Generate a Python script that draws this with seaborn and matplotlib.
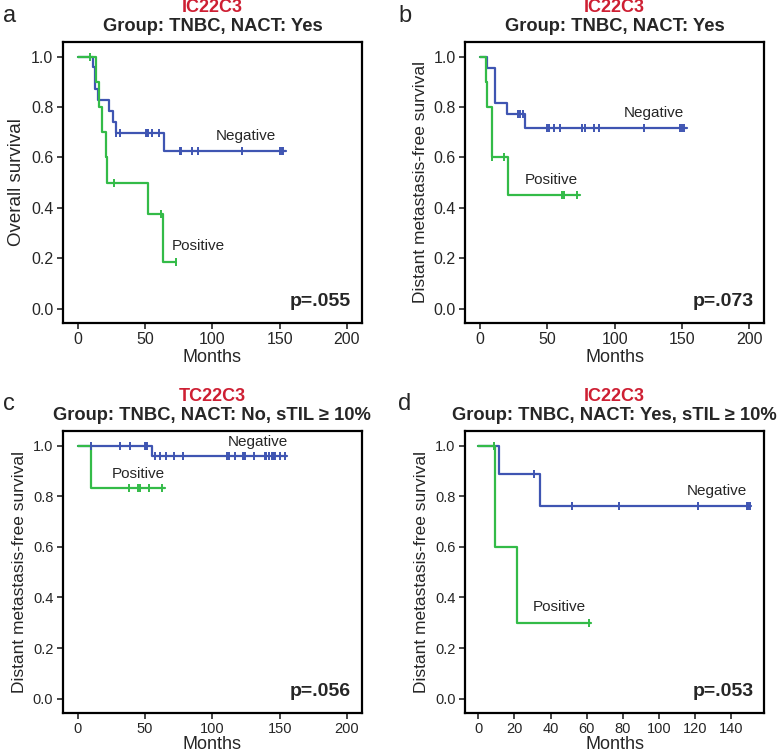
import numpy as np
import pandas as pd
import seaborn as sns
import matplotlib.pyplot as plt

# Kaplan-Meier step curves: change points (months) and survival after each change
a_neg_t = [0, 11.4, 12.4, 15, 23, 26, 28, 64, 154.5]
a_neg_s = [1.0, 0.957, 0.870, 0.826, 0.783, 0.739, 0.696, 0.626, 0.626]
a_neg_c = [28.5, 31, 50.5, 51.5, 52.5, 55, 60, 76, 77, 85, 89, 122, 150, 151.5, 152.5]
a_pos_t = [0, 13.5, 15.5, 18, 21, 22, 52.5, 63, 73]
a_pos_s = [1.0, 0.9, 0.8, 0.7, 0.6, 0.5, 0.375, 0.1875, 0.1875]
a_pos_c = [9, 27, 61.5, 73]

b_neg_t = [0, 5.4, 11, 20.3, 33.7, 153.7]
b_neg_s = [1.0, 0.955, 0.818, 0.773, 0.718, 0.718]
b_neg_c = [28, 29.5, 31.7, 50, 51.5, 54.7, 59.7, 76, 77.7, 84.7, 88.6, 121.8, 148.5, 150, 151.5]
b_pos_t = [0, 4.5, 5.4, 8.7, 20.5, 74]
b_pos_s = [1.0, 0.9, 0.8, 0.6, 0.45, 0.45]
b_pos_c = [8.9, 17.8, 61, 62.4, 72]

c_neg_t = [0, 55, 155.5]
c_neg_s = [1.0, 0.958, 0.958]
c_neg_c = [9.8, 31.7, 39, 50, 50.8, 51.5, 57, 61.4, 65.8, 71.3, 78, 110.6, 112, 117,
           122.6, 123.4, 124.3, 131, 139, 140, 142, 144.5, 145.3, 146, 146.7, 150, 153.8]
c_pos_t = [0, 9.6, 64.6]
c_pos_s = [1.0, 0.833, 0.833]
c_pos_c = [37.8, 45, 46.4, 52.8, 62.7]

d_neg_t = [0, 11.2, 34.4, 150.6]
d_neg_s = [1.0, 0.889, 0.762, 0.762]
d_neg_c = [31, 52, 78, 121.6, 148.6, 149.2, 150]
d_pos_t = [0, 9.4, 21.4, 62.6]
d_pos_s = [1.0, 0.6, 0.3, 0.3]
d_pos_c = [8.9, 61]

markers = ["IC22C3", "IC22C3", "TC22C3", "IC22C3"]
groups = ["Group: TNBC, NACT: Yes", "Group: TNBC, NACT: Yes",
          "Group: TNBC, NACT: No, sTIL \u2265 10%", "Group: TNBC, NACT: Yes, sTIL \u2265 10%"]
ylabels = ["Overall survival", "Distant metastasis-free survival",
           "Distant metastasis-free survival", "Distant metastasis-free survival"]
pvalues = ["p=.055", "p=.073", "p=.056", "p=.053"]
letters = ["a", "b", "c", "d"]

sns.set_style("ticks")
plt.rcParams['font.family'] = ['Liberation Sans', 'DejaVu Sans']

BLUE = "#3F55B2"
GREEN = "#33BB48"
RED = "#CE1F33"

fig = plt.figure(figsize=(7.78, 7.54), dpi=100)
boxes = [[0.081, 0.572, 0.384, 0.372], [0.598, 0.572, 0.384, 0.372],
         [0.081, 0.055, 0.384, 0.373], [0.598, 0.055, 0.384, 0.373]]

panels = [
    (a_neg_t, a_neg_s, a_neg_c, a_pos_t, a_pos_s, a_pos_c),
    (b_neg_t, b_neg_s, b_neg_c, b_pos_t, b_pos_s, b_pos_c),
    (c_neg_t, c_neg_s, c_neg_c, c_pos_t, c_pos_s, c_pos_c),
    (d_neg_t, d_neg_s, d_neg_c, d_pos_t, d_pos_s, d_pos_c),
]
# label positions (data coords) for Negative / Positive
neg_lab = [(125, 0.687), (129, 0.775), (134, 1.013), (132, 0.82)]
pos_lab = [(89.5, 0.251), (52.8, 0.51), (45, 0.888), (44.8, 0.364)]
ylab_size = [13.5, 12.5, 12.5, 12.5]
tick_size = [11.5, 11.5, 10.5, 10.5]


def surv_at(t, s, x):
    idx = np.searchsorted(t, x, side="right") - 1
    return np.asarray(s)[idx]


for i, (nt, ns, nc, pt, ps, pc) in enumerate(panels):
    ax = fig.add_axes(boxes[i])
    for t, s, c, col in [(nt, ns, nc, BLUE), (pt, ps, pc, GREEN)]:
        df = pd.DataFrame({"time": t, "surv": s})
        sns.lineplot(data=df, x="time", y="surv", estimator=None, sort=False,
                     drawstyle="steps-post", color=col, linewidth=1.6, ax=ax)
        cdf = pd.DataFrame({"time": c, "surv": surv_at(t, s, c)})
        sns.scatterplot(data=cdf, x="time", y="surv", marker="|", s=30,
                        linewidth=1.4, color=col, ax=ax, zorder=3)

    if i == 3:
        ax.set_xlim(-7.2, 158)
        ax.set_xticks(range(0, 141, 20))
    else:
        ax.set_xlim(-11, 211)
        ax.set_xticks(range(0, 201, 50))
    ax.set_ylim(-0.055, 1.057)
    ax.set_yticks(np.arange(0, 1.01, 0.2))
    ax.set_yticklabels([f"{v:.1f}" for v in np.arange(0, 1.01, 0.2)])
    ax.set_xlabel("Months", fontsize=13, labelpad=1 if i < 2 else 0)
    ax.set_ylabel(ylabels[i], fontsize=ylab_size[i], labelpad=4)
    ax.tick_params(labelsize=tick_size[i], width=1.2, length=4, direction="out", pad=3)
    for sp in ax.spines.values():
        sp.set_visible(True)
        sp.set_linewidth(1.6)
        sp.set_color("black")

    ax.text(*neg_lab[i], "Negative", fontsize=11, ha="center", va="center")
    ax.text(*pos_lab[i], "Positive", fontsize=11, ha="center", va="center")
    ax.text(0.965, 0.075, pvalues[i], transform=ax.transAxes, fontsize=14,
            fontweight="bold", ha="right", va="center")
    ax.text(0.5, 1.125, markers[i], transform=ax.transAxes, fontsize=13,
            fontweight="bold", color=RED, ha="center", va="center")
    ax.text(0.5, 1.055, groups[i], transform=ax.transAxes, fontsize=13.2,
            fontweight="bold", ha="center", va="center")

fig.text(0.004, 0.971, "a", fontsize=17, va="baseline")
fig.text(0.512, 0.971, "b", fontsize=17, va="baseline")
fig.text(0.004, 0.456, "c", fontsize=17, va="baseline")
fig.text(0.512, 0.456, "d", fontsize=17, va="baseline")

fig.savefig("out.png", dpi=100)
